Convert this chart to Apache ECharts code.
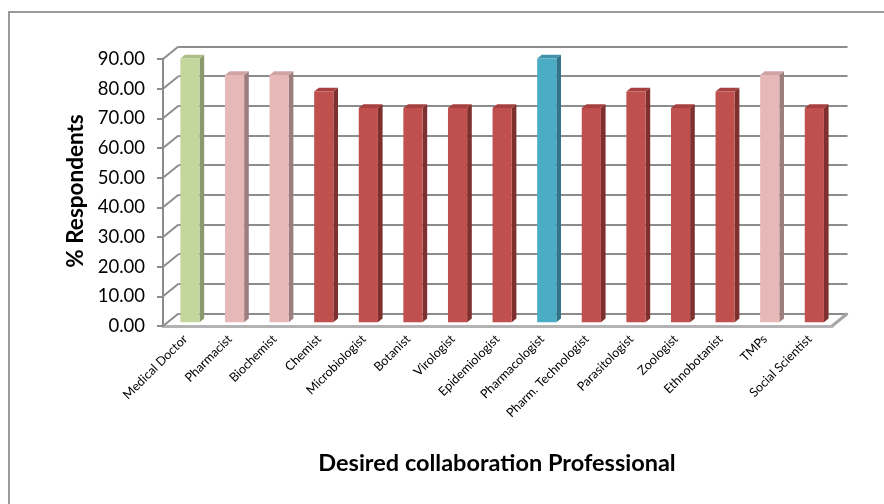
<!DOCTYPE html>
<html>
<head>
<meta charset="utf-8">
<title>Desired collaboration Professional</title>
<script src="https://cdn.jsdelivr.net/npm/echarts@6/dist/echarts.min.js"></script>
<style>
  html, body { margin: 0; padding: 0; background: #fff; }
  #chart { width: 884px; height: 504px; }
</style>
</head>
<body>
<div id="chart"></div>
<script>
// Professionals respondents would like to collaborate with
const categories = [
  'Medical Doctor', 'Pharmacist', 'Biochemist', 'Chemist', 'Microbiologist',
  'Botanist', 'Virologist', 'Epidemiologist', 'Pharmacologist', 'Pharm. Technologist',
  'Parasitologist', 'Zoologist', 'Ethnobotanist', 'TMPs', 'Social Scientist'
];
// % of respondents naming each professional
const respondents = [
  88.89, 83.33, 83.33, 77.78, 72.22,
  72.22, 72.22, 72.22, 88.89, 72.22,
  77.78, 72.22, 77.78, 83.33, 72.22
];
// value axis ticks
const yTicks = [0, 10, 20, 30, 40, 50, 60, 70, 80, 90];

// face colours per bar: [front, side, top]
const GREEN = ['#C3D69B', '#8B9A6C', '#AEC088'];
const PINK  = ['#E6B9B8', '#9C7E7D', '#CFA5A4'];
const RED   = ['#C0504D', '#7E302E', '#A6413F'];
const BLUE  = ['#4BACC6', '#31748A', '#3F93AA'];
const barFaces = [GREEN, PINK, PINK, RED, RED, RED, RED, RED, BLUE, RED, RED, RED, RED, PINK, RED];

// depth vector from the front plane to the back wall
const DX = 15.5, DY = -12.5;
const BAR_DEPTH = 0.3;      // bars stand this far into the box
const BAR_THICK = 0.3;      // depth of a bar
const FONT = 'Lato, "Open Sans", sans-serif';

const chart = echarts.init(document.getElementById('chart'), null, { renderer: 'canvas' });

const front = { left: 163, right: 52, top: 59, bottom: 178 };
const mid = {
  left: front.left + DX * BAR_DEPTH, right: front.right - DX * BAR_DEPTH,
  top: front.top + DY * BAR_DEPTH, bottom: front.bottom - DY * BAR_DEPTH
};
const back = {
  left: front.left + DX, right: front.right - DX,
  top: front.top + DY, bottom: front.bottom - DY
};

const valueAxisBase = { type: 'value', min: 0, max: 90, interval: 10 };

chart.setOption({
  backgroundColor: '#fff',
  animation: false,
  grid: [
    Object.assign({ containLabel: false }, back),
    Object.assign({ containLabel: false }, mid),
    Object.assign({ containLabel: false }, front)
  ],
  xAxis: [
    { gridIndex: 0, type: 'category', data: categories, show: false },
    { gridIndex: 1, type: 'category', data: categories, show: false },
    {
      gridIndex: 2, type: 'category', data: categories,
      axisLine: { show: true, lineStyle: { color: '#B3B3B3', width: 3 } },
      axisTick: { show: false },
      axisLabel: {
        rotate: 45, interval: 0, margin: 11,
        fontFamily: FONT, fontSize: 12.5, color: '#000'
      }
    }
  ],
  yAxis: [
    Object.assign({ gridIndex: 0 }, valueAxisBase, {
      axisLine: { show: false }, axisTick: { show: false }, axisLabel: { show: false },
      splitLine: { show: true, lineStyle: { color: '#8C8C8C', width: 2 } }
    }),
    Object.assign({ gridIndex: 1 }, valueAxisBase, { show: false }),
    Object.assign({ gridIndex: 2 }, valueAxisBase, {
      axisLine: { show: true, lineStyle: { color: '#8C8C8C', width: 2 } },
      axisTick: { show: true, length: 6, lineStyle: { color: '#8C8C8C', width: 2 } },
      splitLine: { show: false },
      axisLabel: {
        margin: 18, fontFamily: FONT, fontSize: 18.5, color: '#000',
        formatter: v => v.toFixed(2)
      }
    })
  ],
  series: [
    {
      // side-wall slants joining the front ticks to the back gridlines, plus the floor's right edge
      type: 'custom',
      xAxisIndex: 2, yAxisIndex: 2,
      data: yTicks.map(v => [0, v]),
      z: 1,
      renderItem(params, api) {
        const cs = params.coordSys;
        const y = api.coord([0, api.value(1)])[1];
        const children = [{
          type: 'line',
          shape: { x1: cs.x, y1: y, x2: cs.x + DX, y2: y + DY },
          style: { stroke: '#8C8C8C', lineWidth: 2 }
        }];
        if (api.value(1) === 0) {
          children.push({
            type: 'line',
            shape: { x1: cs.x + cs.width, y1: y, x2: cs.x + cs.width + DX, y2: y + DY },
            style: { stroke: '#A6A6A6', lineWidth: 3 }
          });
        }
        return { type: 'group', children };
      }
    },
    {
      // 3D-looking bars: front face, side face and top face
      type: 'custom',
      xAxisIndex: 1, yAxisIndex: 1,
      data: respondents.map((v, i) => [i, v]),
      z: 5,
      renderItem(params, api) {
        const i = api.value(0);
        const top = api.coord([i, api.value(1)]);
        const base = api.coord([i, 0]);
        const w = api.size([1, 0])[0] * 0.43;
        const dx = DX * BAR_THICK, dy = DY * BAR_THICK;
        const x0 = top[0] - w / 2, x1 = top[0] + w / 2;
        const [cFront, cSide, cTop] = barFaces[i];
        return {
          type: 'group',
          children: [
            {
              type: 'polygon',
              shape: { points: [[x1, top[1]], [x1 + dx, top[1] + dy], [x1 + dx, base[1] + dy], [x1, base[1]]] },
              style: { fill: cSide }
            },
            {
              type: 'polygon',
              shape: { points: [[x0, top[1]], [x1, top[1]], [x1 + dx, top[1] + dy], [x0 + dx, top[1] + dy]] },
              style: { fill: cTop }
            },
            {
              type: 'rect',
              shape: { x: x0, y: top[1], width: w, height: base[1] - top[1] },
              style: { fill: cFront }
            }
          ]
        };
      }
    }
  ],
  graphic: [
    {
      type: 'rect', silent: true, z: -10,
      shape: { x: 9, y: 12, width: 1000, height: 700 },
      style: { fill: null, stroke: '#9A9A9A', lineWidth: 2 }
    },
    {
      type: 'text', rotation: Math.PI / 2, x: 76, y: 191,
      style: {
        text: '% Respondents', fontFamily: FONT, fontWeight: 'bold', fontSize: 22.5,
        fill: '#000', align: 'center', verticalAlign: 'middle'
      }
    },
    {
      type: 'text', x: 497, y: 463,
      style: {
        text: 'Desired collaboration Professional', fontFamily: FONT, fontWeight: 'bold',
        fontSize: 23.5, fill: '#000', align: 'center', verticalAlign: 'middle'
      }
    }
  ]
});
</script>
</body>
</html>
